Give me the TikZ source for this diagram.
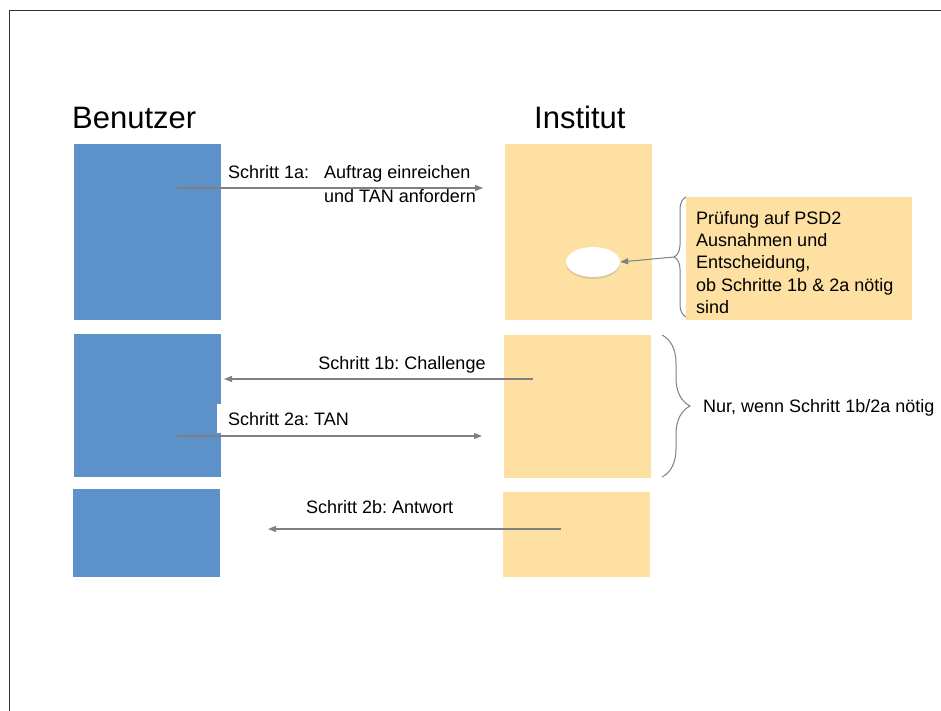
\documentclass[tikz,border=0pt]{standalone}
\usepackage{fontspec}
\setmainfont{Liberation Sans}
\usetikzlibrary{arrows.meta,shapes.geometric,shadows,decorations.pathreplacing}
\frenchspacing

\definecolor{userblue}{RGB}{92,145,201}
\definecolor{instorange}{RGB}{253,224,162}
\definecolor{msggray}{RGB}{128,128,128}

\tikzset{
  userbox/.style={fill=userblue, inner sep=0pt, anchor=north west},
  instbox/.style={fill=instorange, inner sep=0pt, anchor=north west},
  msg/.style={draw=msggray, line width=1.3pt, -{Triangle[length=8pt,width=6pt]}},
  msgtext/.style={font=\fontsize{18}{22.3}\selectfont, inner sep=0pt, anchor=base west},
  heading/.style={font=\fontsize{31}{36}\selectfont, inner sep=0pt, anchor=base west},
  bracegray/.style={draw=msggray, line width=1pt, decorate}
}

\begin{document}
\begin{tikzpicture}[x=1pt, y=-1pt]
    \useasboundingbox (0,0) rectangle (941,711);
    \draw[black!80, line width=1pt] (9,11) rectangle (980,740);

    % Headings
    \node[heading] (benutzer) at (72,129) {Benutzer};
    \node[heading] (institut) at (534,129) {Institut};

    % User side
    \node[userbox, minimum width=147pt, minimum height=176pt] (u1) at (74,144) {};
    \node[userbox, minimum width=147pt, minimum height=143pt] (u2) at (74,334) {};
    \node[userbox, minimum width=147pt, minimum height=88pt] (u3) at (73,489) {};

    % Institute side
    \node[instbox, minimum width=147pt, minimum height=176pt] (i1) at (505,144) {};
    \node[instbox, minimum width=147pt, minimum height=143pt] (i2) at (504,335) {};
    \node[instbox, minimum width=147pt, minimum height=85pt] (i3) at (503,492) {};

    % Decision inside the institute
    \node[ellipse, fill=white, minimum width=54pt, minimum height=30pt, inner sep=0pt,
          drop shadow={shadow xshift=0pt, shadow yshift=-2pt, opacity=0.25}] (check) at (593,262) {};

    % Note on the right
    \node[instbox, minimum width=226pt, minimum height=123pt] (note) at (686,197) {};
    \node[msgtext, anchor=north west, align=left] (notetext) at (696,211)
        {Prüfung auf PSD2\\Ausnahmen und\\Entscheidung,\\ob Schritte 1b \& 2a nötig\\sind};
    \draw[bracegray, decoration={brace, amplitude=12pt}] (686,317) -- (686,197);
    \coordinate (notetip) at (674,257);

    % Messages
    \node[msgtext] (s1a) at (228,179) {Schritt 1a:\hspace{15pt}Auftrag einreichen};
    \node[msgtext] (s1a2) at (324,203) {und TAN anfordern};
    \node[msgtext, fill=white, inner xsep=18pt, inner ysep=6pt, anchor=base] (s1b) at (402,369) {Schritt 1b: Challenge};
    \node[msgtext, fill=white, inner xsep=11pt, inner ysep=8pt] (s2a) at (217,425) {Schritt 2a: TAN};
    \node[msgtext] (s2b) at (306,513) {Schritt 2b: Antwort};

    \coordinate (m1a-a) at (177,188);
    \coordinate (m1a-b) at (483,188);
    \coordinate (m1b-a) at (533,379);
    \coordinate (m1b-b) at (224,379);
    \coordinate (m2a-a) at (177,436);
    \coordinate (m2a-b) at (482,436);
    \coordinate (m2b-a) at (561,529);
    \coordinate (m2b-b) at (268,529);

    \draw[msg] (m1a-a) -- (m1a-b);
    \draw[msg] (m1b-a) -- (m1b-b);
    \draw[msg] (m2a-a) -- (m2a-b);
    \draw[msg] (m2b-a) -- (m2b-b);
    \draw[msg, line width=1pt] (notetip) -- (check.east);

    % Optional steps
    \draw[bracegray, decoration={brace, amplitude=28pt}] (662,335) -- (662,477);
    \node[msgtext] (optional) at (703,412) {Nur, wenn Schritt 1b/2a nötig};
\end{tikzpicture}
\end{document}
